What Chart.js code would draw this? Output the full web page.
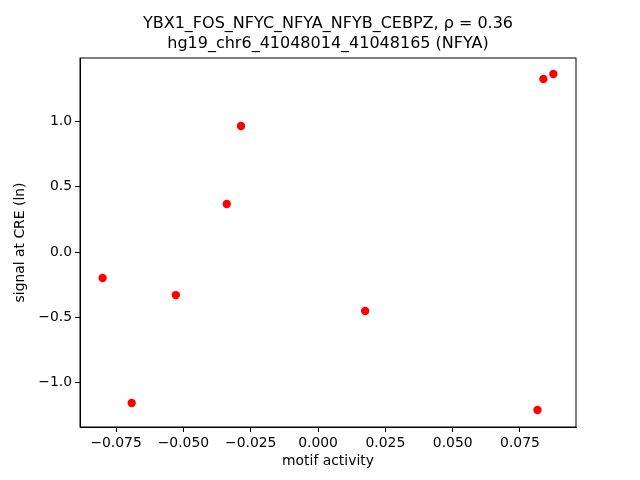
<!DOCTYPE html>
<html>
<head>
<meta charset="utf-8">
<script src="https://cdn.jsdelivr.net/npm/chart.js@4/dist/chart.umd.min.js"></script>
<style>
  body { margin: 0; background: #fff; }
</style>
</head>
<body>
<canvas id="chart" width="640" height="480"></canvas>
<script>
// values
const motifActivity = [-0.0800, -0.0692, -0.0528, -0.0339, -0.0286, 0.0175, 0.0815, 0.0837, 0.0874];
const signalAtCRE = [-0.199, -1.157, -0.330, 0.368, 0.966, -0.452, -1.211, 1.326, 1.364];
const xTicks = [-0.075, -0.050, -0.025, 0.000, 0.025, 0.050, 0.075];
const yTicks = [-1.0, -0.5, 0.0, 0.5, 1.0];

const points = motifActivity.map((x, i) => ({ x: x, y: signalAtCRE[i] }));

function fmt(v, digits) {
    // matplotlib uses a real minus sign
    const s = Math.abs(v).toFixed(digits);
    return (v < -1e-9 ? '\u2212' : '') + s;
}

Chart.defaults.font.family = 'DejaVu Sans';
Chart.defaults.color = '#000';

const ctx = document.getElementById('chart').getContext('2d');
new Chart(ctx, {
    type: 'scatter',
    data: {
        datasets: [{
            data: points,
            backgroundColor: '#ff0000',
            borderColor: '#ff0000',
            borderWidth: 0,
            pointRadius: 4.2,
            pointHoverRadius: 4.2
        }]
    },
    options: {
        responsive: false,
        animation: false,
        layout: { padding: { left: 0, right: 64, top: 0, bottom: 0 } },
        plugins: {
            legend: { display: false },
            tooltip: { enabled: false },
            title: {
                display: true,
                fullSize: false,
                text: ['YBX1_FOS_NFYC_NFYA_NFYB_CEBPZ, \u03c1 = 0.36', 'hg19_chr6_41048014_41048165 (NFYA)'],
                font: { size: 16, weight: 'normal', lineHeight: 1.25 },
                color: '#000',
                padding: { top: 14, bottom: 4 }
            }
        },
        scales: {
            x: {
                type: 'linear',
                min: -0.0884,
                max: 0.0958,
                afterBuildTicks: function (axis) {
                    axis.ticks = xTicks.map(v => ({ value: v }));
                },
                afterFit: function (axis) { axis.height = 53; },
                ticks: {
                    callback: v => fmt(v, 3),
                    font: { size: 13.9 },
                    padding: 3,
                    maxRotation: 0,
                    autoSkip: false
                },
                grid: { drawOnChartArea: false, tickLength: 5, tickColor: '#000', tickWidth: 1 },
                border: { color: '#000', width: 1 },
                title: { display: true, text: 'motif activity', font: { size: 13.9 }, padding: { top: 10, bottom: 10 } }
            },
            y: {
                type: 'linear',
                min: -1.341,
                max: 1.487,
                afterBuildTicks: function (axis) {
                    axis.ticks = yTicks.map(v => ({ value: v }));
                },
                afterFit: function (axis) { axis.width = 80; },
                ticks: {
                    callback: v => fmt(v, 1),
                    font: { size: 13.9 },
                    padding: 3,
                    autoSkip: false
                },
                grid: { drawOnChartArea: false, tickLength: 5, tickColor: '#000', tickWidth: 1 },
                border: { color: '#000', width: 1 },
                title: { display: true, text: 'signal at CRE (ln)', font: { size: 13.9 }, padding: { top: 12, bottom: 12 } }
            }
        }
    },
    plugins: [{
        // right and top spines like matplotlib's box
        id: 'frame',
        afterDraw: function (chart) {
            const a = chart.chartArea;
            const c = chart.ctx;
            c.save();
            c.strokeStyle = '#000';
            c.lineWidth = 1;
            c.strokeRect(a.left, a.top, a.right - a.left, a.bottom - a.top);
            c.restore();
        }
    }]
});
</script>
</body>
</html>
